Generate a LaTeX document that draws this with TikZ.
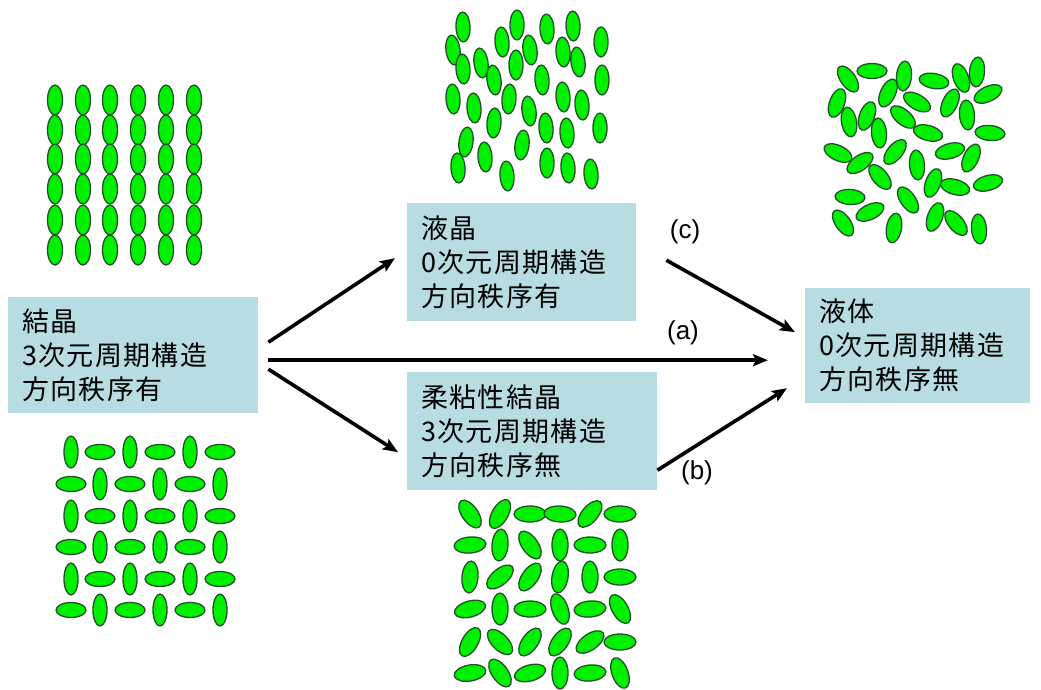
\documentclass[tikz,border=0pt]{standalone}
\usepackage{fontspec}
\setmainfont{Liberation Sans}
\newfontfamily\jpfont{Noto Sans CJK JP}[LetterSpace=5]
\usetikzlibrary{arrows.meta}
\definecolor{boxBlue}{HTML}{B7DDE3}
\definecolor{molFill}{HTML}{00F000}
\definecolor{molEdge}{HTML}{23502A}

\begin{document}
\begin{tikzpicture}[
      x=1pt, y=-1pt,
      >={Stealth[length=15pt, width=12pt, inset=3pt]},
      phase/.style={anchor=north west, fill=boxBlue, inner xsep=14pt, inner ysep=0pt,
                    align=left, font=\jpfont\fontsize{27}{34}\selectfont},
      mol/.style={fill=molFill, draw=molEdge, line width=1.3pt},
      flow/.style={->, line width=3.6pt},
      lab/.style={font=\fontsize{26}{30}\selectfont},
    ]
    \useasboundingbox (0,0) rectangle (1041,689);

    % ---------- boxes ----------
    \node[phase, text width=222pt, minimum height=116pt] (cry) at (8,297)
      {結晶\\3次元周期構造\\方向秩序有};
    \node[phase, text width=201pt, minimum height=118pt] (lc) at (407,203)
      {液晶\\0次元周期構造\\方向秩序有};
    \node[phase, text width=222pt, minimum height=118pt] (pc) at (407,372)
      {柔粘性結晶\\3次元周期構造\\方向秩序無};
    \node[phase, text width=197pt, minimum height=115pt] (liq) at (805,288)
      {液体\\0次元周期構造\\方向秩序無};

    % ---------- transitions ----------
    \draw[flow] ([xshift=10pt, yshift=13pt]cry.east) -- ([xshift=-12pt, yshift=4pt]lc.west);
    \draw[flow] ([xshift=10pt, yshift=-5pt]cry.east) -- ([xshift=-37pt, yshift=-14.5pt]liq.west);
    \draw[flow] ([xshift=10pt, yshift=-14pt]cry.east) -- ([xshift=-9pt, yshift=-21pt]pc.west);
    \draw[flow] ([xshift=30pt, yshift=2pt]lc.east) -- ([xshift=-10pt, yshift=13.5pt]liq.west);
    \draw[flow] ([yshift=-39pt]pc.east) -- ([xshift=-18pt, yshift=-42.5pt]liq.west);

    \node[lab] (labc) at (685,232) {(c)};
    \node[lab] (laba) at (683,333) {(a)};
    \node[lab] (labb) at (697,473) {(b)};

    % ---------- crystal: all upright ----------
    \foreach \x in {55,83,110,138,166,194}
      \foreach \y in {100,130,159,189,220,250}
        \draw[mol] (\x,\y) ellipse (7.5 and 15);

    % ---------- crystal: alternating orientation ----------
    \foreach \y [count=\r] in {452,484,516,547,579,610}
      \foreach \x [count=\c] in {71,100,130,160,190,220}{
        \pgfmathtruncatemacro{\odd}{mod(\r+\c,2)}
        \ifnum\odd=0
          \draw[mol] (\x,\y) ellipse (7 and 16);
        \else
          \draw[mol] (\x,\y) ellipse (15 and 7.5);
        \fi
      }

    % ---------- liquid crystal ----------
    \foreach \x/\y/\a in {463/27/92, 453/50/97, 517/25/90, 547/29/93, 573/26/92,
        502/42/94, 530/50/97, 563/52/94, 601/42/90, 463/69/94, 481/63/97,
        494/80/97, 516/65/90, 542/80/94, 578/62/97, 602/80/90, 453/99/94,
        474/108/94, 509/99/86, 563/97/94, 582/105/94, 529/111/97, 494/123/86,
        546/128/94, 567/133/94, 600/128/90, 466/142/83, 522/145/83, 485/157/94,
        547/163/90, 458/168/94, 507/176/94, 568/168/94, 591/174/94}
      \draw[mol, rotate around={\a:(\x,\y)}] (\x,\y) ellipse (15 and 7);

    % ---------- plastic crystal ----------
    \foreach \y/\row in {514/{-55,60,0,-3,50,0}, 545/{5,85,-55,90,0,90},
        577/{85,40,55,80,90,0}, 609/{15,90,0,110,5,-60},
        642/{60,-45,55,55,35,0}, 673/{10,-55,15,90,5,-70}}
      \foreach \a [count=\c] in \row {
        \pgfmathsetmacro{\x}{440+30*\c}
        \draw[mol, rotate around={\a:(\x,\y)}] (\x,\y) ellipse (16 and 8);
      }

    % ---------- liquid ----------
    \foreach \x/\y/\a in {848/79/-55, 872/71/0, 904/76/85, 934/81/-10, 961/78/110,
        977/72/85, 988/94/25, 837/103/70, 888/93/65, 917/102/-30, 950/103/65,
        967/115/95, 849/122/100, 867/116/70, 903/117/-40, 879/133/95, 928/133/-15,
        990/133/-5, 838/153/-25, 860/163/35, 895/152/50, 917/165/95, 950/151/15,
        971/158/65, 880/177/-50, 933/183/70, 955/187/-15, 988/183/15, 850/197/-3,
        908/200/-55, 870/212/25, 843/223/-55, 894/228/80, 935/217/70, 956/223/-50,
        979/229/95}
      \draw[mol, rotate around={\a:(\x,\y)}] (\x,\y) ellipse (15 and 7.5);

  \end{tikzpicture}
\end{document}
